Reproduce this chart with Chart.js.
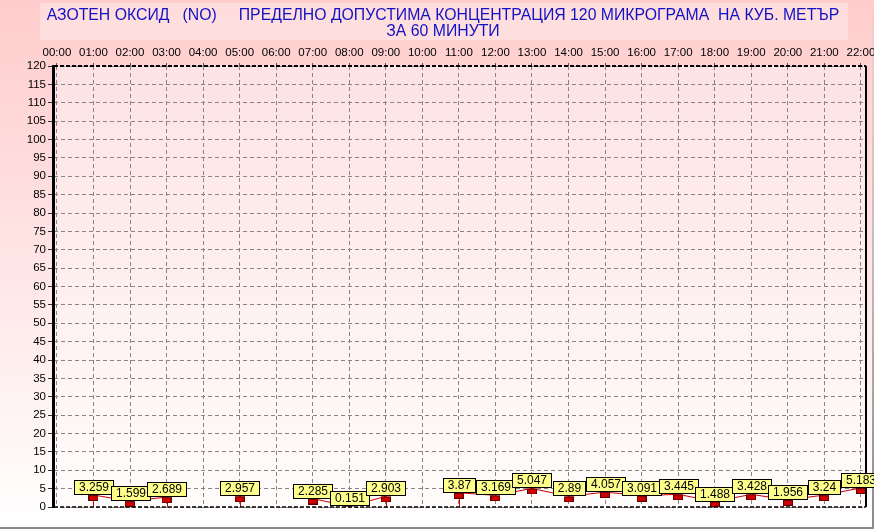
<!DOCTYPE html>
<html>
<head>
  <meta charset="UTF-8">
  <script src="https://cdn.jsdelivr.net/npm/chart.js"></script>
  <title>Азотен оксид</title>
  <style>
    html, body { margin: 0; padding: 0; background: #fff; }
    canvas { display: block; }
  </style>
</head>
<body>
  <canvas id="myChart" width="874" height="529"></canvas>
  <script>
    // data
    var hours = ['00:00', '01:00', '02:00', '03:00', '04:00', '05:00', '06:00', '07:00', '08:00', '09:00', '10:00', '11:00',
      '12:00', '13:00', '14:00', '15:00', '16:00', '17:00', '18:00', '19:00', '20:00', '21:00', '22:00'];
    var noValues = [null, 3.259, 1.599, 2.689, null, 2.957, null, 2.285, 0.151, 2.903, null, 3.87,
      3.169, 5.047, 2.89, 4.057, 3.091, 3.445, 1.488, 3.428, 1.956, 3.24, 5.183];
    var dropHours = [1, 3, 5, 9, 11];
    var yMin = 0, yMax = 120, yStep = 5;
    var titleLines = ['АЗОТЕН ОКСИД   (NO)     ПРЕДЕЛНО ДОПУСТИМА КОНЦЕНТРАЦИЯ 120 МИКРОГРАМА  НА КУБ. МЕТЪР', 'ЗА 60 МИНУТИ'];

    var FONT = '"Liberation Sans", Arial, sans-serif';

    // small red marker, drawn a little under the value point
    var marker = document.createElement('canvas');
    marker.width = 10;
    marker.height = 12;
    var mctx = marker.getContext('2d');
    mctx.fillStyle = '#d00000';
    mctx.fillRect(0.5, 6.5, 9, 5);
    mctx.strokeStyle = '#600000';
    mctx.lineWidth = 1;
    mctx.strokeRect(0.5, 6.5, 9, 5);

    var backdrop = {
      id: 'backdrop',
      beforeDraw: function (chart) {
        var c = chart.ctx, a = chart.chartArea;
        var g = c.createLinearGradient(0, 0, 0, chart.height);
        g.addColorStop(0, '#ffcccc');
        g.addColorStop(1, '#ffffff');
        c.save();
        c.fillStyle = g;
        c.fillRect(0, 0, chart.width, chart.height);
        // plot area
        var g2 = c.createLinearGradient(0, a.top, 0, a.bottom);
        g2.addColorStop(0, '#fde3e3');
        g2.addColorStop(1, '#fffcfc');
        c.fillStyle = g2;
        c.fillRect(a.left, a.top, a.right - a.left, a.bottom - a.top);
        // title box
        c.fillStyle = 'rgba(255,235,235,0.55)';
        c.fillRect(40, 3, 808, 37);
        c.fillStyle = '#1212c4';
        c.font = '15.8px ' + FONT;
        c.textAlign = 'center';
        c.textBaseline = 'middle';
        c.fillText(titleLines[0], 443, 16);
        c.fillText(titleLines[1], 443, 32);
        // window frame
        c.strokeStyle = '#8a8a8a';
        c.lineWidth = 2;
        c.beginPath();
        c.moveTo(0, 528);
        c.lineTo(874, 528);
        c.stroke();
        var g3 = c.createLinearGradient(0, 0, 0, chart.height);
        g3.addColorStop(0, 'rgba(138,138,138,0)');
        g3.addColorStop(1, 'rgba(138,138,138,1)');
        c.strokeStyle = g3;
        c.beginPath();
        c.moveTo(873, 0);
        c.lineTo(873, 529);
        c.stroke();
        c.restore();
      },
      beforeDatasetsDraw: function (chart) {
        var c = chart.ctx, xs = chart.scales.x, ys = chart.scales.y;
        c.save();
        c.strokeStyle = '#d00000';
        c.lineWidth = 1;
        dropHours.forEach(function (h) {
          var x = Math.round(xs.getPixelForValue(h)) + 0.5;
          c.beginPath();
          c.moveTo(x, ys.getPixelForValue(noValues[h]));
          c.lineTo(x, ys.getPixelForValue(0));
          c.stroke();
        });
        c.restore();
      },
      afterDatasetsDraw: function (chart) {
        var c = chart.ctx, a = chart.chartArea, xs = chart.scales.x, ys = chart.scales.y;
        c.save();
        // frame of the plot
        c.strokeStyle = '#000';
        c.lineWidth = 2;
        c.setLineDash([4, 2]);
        c.beginPath();
        c.moveTo(a.left, a.top);
        c.lineTo(a.right, a.top);
        c.stroke();
        c.lineWidth = 1.5;
        c.beginPath();
        c.moveTo(a.left, a.bottom);
        c.lineTo(a.right, a.bottom);
        c.stroke();
        c.setLineDash([]);
        c.lineWidth = 2;
        c.beginPath();
        c.moveTo(a.right, a.top);
        c.lineTo(a.right, a.bottom);
        c.stroke();
        c.lineWidth = 3;
        c.beginPath();
        c.moveTo(a.left - 0.5, a.top - 1);
        c.lineTo(a.left - 0.5, a.bottom + 1);
        c.stroke();
        // value boxes
        c.font = '12px ' + FONT;
        c.textAlign = 'center';
        c.textBaseline = 'middle';
        c.lineWidth = 1;
        noValues.forEach(function (v, i) {
          if (v === null) return;
          var txt = String(v);
          var x = xs.getPixelForValue(i), y = ys.getPixelForValue(v);
          var w = Math.round(c.measureText(txt).width) + 9, h = 14;
          var bx = Math.round(x - w / 2) + 0.5, by = Math.round(y - 1 - h) + 0.5;
          c.fillStyle = '#ffff8c';
          c.fillRect(bx, by, w, h);
          c.strokeStyle = '#000';
          c.strokeRect(bx, by, w, h);
          c.fillStyle = '#000';
          c.fillText(txt, bx + w / 2, by + h / 2 + 0.5);
        });
        c.restore();
      }
    };

    var ctx = document.getElementById('myChart').getContext('2d');
    var chart = new Chart(ctx, {
      type: 'line',
      data: {
        datasets: [{
          label: 'NO',
          data: noValues.map(function (v, i) { return { x: i, y: v }; }),
          borderColor: '#cc0000',
          borderWidth: 1,
          pointStyle: marker,
          pointRadius: 5,
          spanGaps: false,
          fill: false
        }]
      },
      options: {
        responsive: false,
        animation: false,
        devicePixelRatio: 1,
        layout: { padding: { top: 0, right: 8, bottom: 22, left: 0 } },
        plugins: {
          legend: { display: false },
          tooltip: { enabled: false }
        },
        scales: {
          x: {
            type: 'linear',
            position: 'top',
            min: -0.08,
            max: 22.14,
            afterBuildTicks: function (scale) {
              scale.ticks = hours.map(function (_, i) { return { value: i }; });
            },
            afterFit: function (scale) {
              scale.height = 66;
              scale.paddingLeft = 0;
              scale.paddingRight = 0;
            },
            ticks: {
              autoSkip: false,
              maxRotation: 0,
              padding: 3,
              color: '#000',
              font: { family: FONT, size: 11.5 },
              callback: function (v) { return hours[v]; }
            },
            border: { display: false, dash: [4, 3] },
            grid: {
              color: '#8c8484',
              tickLength: 3,
              tickBorderDash: [],
              tickColor: '#555'
            }
          },
          y: {
            min: yMin,
            max: yMax,
            afterFit: function (scale) { scale.width = 54; },
            ticks: {
              stepSize: yStep,
              padding: 2,
              color: '#000',
              font: { family: FONT, size: 11.5 }
            },
            border: { display: false, dash: [4, 3] },
            grid: {
              color: '#8c8484',
              tickLength: 6,
              tickBorderDash: [],
              tickColor: '#333'
            }
          }
        }
      },
      plugins: [backdrop]
    });
  </script>
</body>
</html>
